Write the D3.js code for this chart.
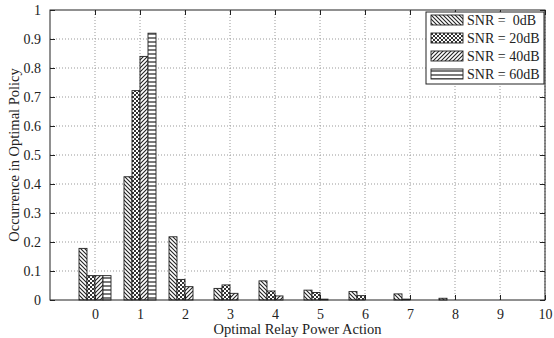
<!DOCTYPE html>
<html>
<head>
<meta charset="utf-8">
<script src="https://cdn.jsdelivr.net/npm/d3@7"></script>
<style>
  body { margin: 0; background: #fff; }
  svg, svg text { font-family: "Liberation Serif", "DejaVu Serif", serif; }
</style>
</head>
<body>
<div id="chart"></div>
<script>
// Power actions on the x axis
var actions = [0, 1, 2, 3, 4, 5, 6, 7, 8, 9, 10];
var seriesNames = ["SNR =  0dB", "SNR = 20dB", "SNR = 40dB", "SNR = 60dB"];

// Occurrence of each action per SNR
var snr0  = [0.178, 0.425, 0.218, 0.040, 0.066, 0.034, 0.029, 0.021, 0.006, 0, 0];
var snr20 = [0.084, 0.722, 0.071, 0.052, 0.031, 0.026, 0.015, 0.003, 0, 0, 0];
var snr40 = [0.084, 0.840, 0.046, 0.023, 0.014, 0.003, 0, 0, 0, 0, 0];
var snr60 = [0.084, 0.920, 0, 0, 0, 0, 0, 0, 0, 0, 0];

var yTicks = [0, 0.1, 0.2, 0.3, 0.4, 0.5, 0.6, 0.7, 0.8, 0.9, 1];

var width = 554, height = 338;
var margin = { left: 50, right: 9, top: 10, bottom: 38 };

var svg = d3.select("#chart").append("svg")
  .attr("width", width)
  .attr("height", height);

// hatch patterns for the four series
var defs = svg.append("defs");
function hatch(id, draw) {
  var p = defs.append("pattern")
    .attr("id", id)
    .attr("patternUnits", "userSpaceOnUse")
    .attr("width", 4)
    .attr("height", 4);
  p.append("rect").attr("width", 4).attr("height", 4).attr("fill", "#fff");
  draw(p);
}
hatch("p0", function (p) {
  p.append("path").attr("d", "M-1,-1 L5,5 M-1,3 L1,5 M3,-1 L5,1")
    .attr("stroke", "#222").attr("stroke-width", 1.1);
});
hatch("p1", function (p) {
  p.append("rect").attr("width", 2).attr("height", 2).attr("fill", "#333");
  p.append("rect").attr("x", 2).attr("y", 2).attr("width", 2).attr("height", 2).attr("fill", "#333");
});
hatch("p2", function (p) {
  p.append("path").attr("d", "M-1,5 L5,-1 M-1,1 L1,-1 M3,5 L5,3")
    .attr("stroke", "#222").attr("stroke-width", 1.1);
});
hatch("p3", function (p) {
  p.append("path").attr("d", "M0,2 L4,2")
    .attr("stroke", "#222").attr("stroke-width", 1.2);
});
var fills = ["url(#p0)", "url(#p1)", "url(#p2)", "url(#p3)"];

var x = d3.scaleLinear().domain([-1, 10]).range([margin.left, width - margin.right]);
var y = d3.scaleLinear().domain([0, 1]).range([height - margin.bottom, margin.top]);
var inner = d3.scaleBand().domain(seriesNames).range([-16, 16]);

var x0 = x.range()[0], x1 = x.range()[1], y0 = y.range()[0], y1 = y.range()[1];

// dotted grid
svg.append("g").selectAll("line").data(actions).enter().append("line")
  .attr("x1", function (d) { return x(d); })
  .attr("x2", function (d) { return x(d); })
  .attr("y1", y0).attr("y2", y1)
  .attr("stroke", "#999").attr("stroke-dasharray", "1,2");
svg.append("g").selectAll("line").data(yTicks.slice(1, -1)).enter().append("line")
  .attr("x1", x0).attr("x2", x1)
  .attr("y1", function (d) { return y(d); })
  .attr("y2", function (d) { return y(d); })
  .attr("stroke", "#999").attr("stroke-dasharray", "1,2");

// bars
var data = [snr0, snr20, snr40, snr60];
data.forEach(function (vals, si) {
  svg.append("g").selectAll("rect")
    .data(vals.map(function (v, i) { return { a: actions[i], v: v }; }).filter(function (d) { return d.v > 0; }))
    .enter().append("rect")
    .attr("x", function (d) { return x(d.a) + inner(seriesNames[si]); })
    .attr("y", function (d) { return y(d.v); })
    .attr("width", inner.bandwidth())
    .attr("height", function (d) { return y(0) - y(d.v); })
    .attr("fill", fills[si])
    .attr("stroke", "#222")
    .attr("stroke-width", 0.9);
});

// axes box with inward ticks on every side
var axisStyle = function (g) {
  g.attr("font-family", null).attr("font-size", null);
  g.select(".domain").remove();
  g.selectAll("line").attr("stroke", "#222");
  g.selectAll("text").attr("fill", "#222").style("font-size", "14px");
};
svg.append("g").attr("transform", "translate(0," + y0 + ")")
  .call(d3.axisBottom(x).tickValues(actions).tickSizeInner(-5).tickSizeOuter(0).tickPadding(9).tickFormat(d3.format("d")))
  .call(axisStyle);
svg.append("g").attr("transform", "translate(0," + y1 + ")")
  .call(d3.axisTop(x).tickValues(actions).tickSizeInner(-5).tickSizeOuter(0).tickFormat(""))
  .call(axisStyle);
svg.append("g").attr("transform", "translate(" + x0 + ",0)")
  .call(d3.axisLeft(y).tickValues(yTicks).tickSizeInner(-5).tickSizeOuter(0).tickPadding(9).tickFormat(d3.format("")))
  .call(axisStyle);
svg.append("g").attr("transform", "translate(" + x1 + ",0)")
  .call(d3.axisRight(y).tickValues(yTicks).tickSizeInner(-5).tickSizeOuter(0).tickFormat(""))
  .call(axisStyle);
svg.append("rect")
  .attr("x", x0).attr("y", y1)
  .attr("width", x1 - x0).attr("height", y0 - y1)
  .attr("fill", "none").attr("stroke", "#222").attr("stroke-width", 1);

// axis titles
svg.append("text")
  .attr("x", (x0 + x1) / 2).attr("y", 334)
  .attr("text-anchor", "middle")
  .style("font-size", "14.5px").attr("fill", "#222")
  .text("Optimal Relay Power Action");
svg.append("text")
  .attr("transform", "translate(19," + (y0 + y1) / 2 + ") rotate(-90)")
  .attr("text-anchor", "middle")
  .style("font-size", "14.5px").attr("fill", "#222")
  .text("Occurrence in Optimal Policy");

// legend
var lg = svg.append("g").attr("transform", "translate(426,12)");
lg.append("rect").attr("width", 118).attr("height", 72)
  .attr("fill", "#fff").attr("stroke", "#222");
var rows = lg.selectAll("g.row").data(seriesNames).enter().append("g")
  .attr("transform", function (d, i) { return "translate(5," + (3 + i * 18) + ")"; });
rows.append("rect").attr("width", 32).attr("height", 10)
  .attr("fill", function (d, i) { return fills[i]; })
  .attr("stroke", "#222").attr("stroke-width", 0.9);
rows.append("text").attr("x", 36).attr("y", 10)
  .style("font-size", "14px").attr("fill", "#222")
  .style("white-space", "pre").attr("xml:space", "preserve")
  .text(function (d) { return d; });
</script>
</body>
</html>
